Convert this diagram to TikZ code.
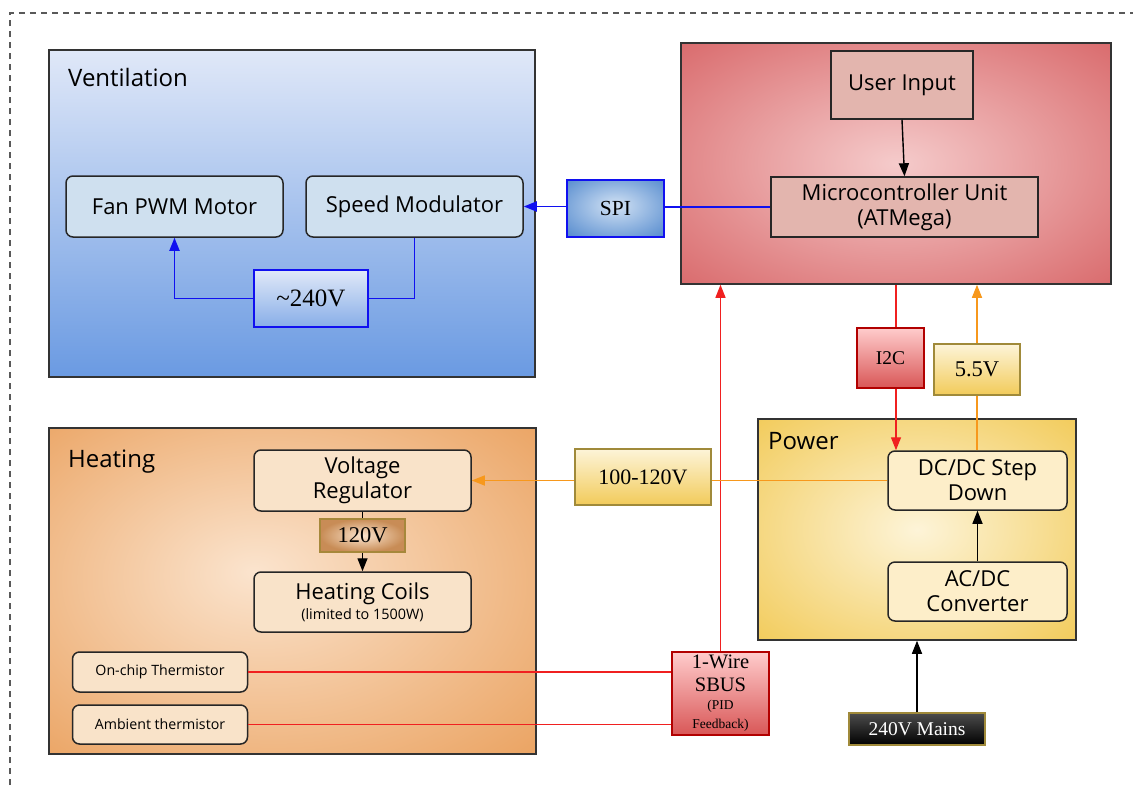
\documentclass[tikz,border=0pt]{standalone}
\usepackage{fontspec}
\setmainfont{Open Sans}
\newfontfamily\tnr{Liberation Serif}
\usetikzlibrary{arrows.meta}
\definecolor{ventTop}{HTML}{E0E8F8}
\definecolor{ventBot}{HTML}{6A9AE2}
\definecolor{ventInner}{HTML}{CFE0EF}
\definecolor{spiIn}{HTML}{D2E2F4}
\definecolor{spiOut}{HTML}{5B8FD0}
\definecolor{redIn}{HTML}{F5CBCB}
\definecolor{redOut}{HTML}{D96A6C}
\definecolor{mcuInner}{HTML}{E3B5AE}
\definecolor{heatIn}{HTML}{FBE4CE}
\definecolor{heatOut}{HTML}{EBA565}
\definecolor{heatInner}{HTML}{F9E3C9}
\definecolor{powIn}{HTML}{FDF4D8}
\definecolor{powOut}{HTML}{F2CB5A}
\definecolor{powInner}{HTML}{FDEEC9}
\definecolor{wireBlue}{HTML}{1010F0}
\definecolor{wireRed}{HTML}{F02020}
\definecolor{wireOrange}{HTML}{F7981C}
\definecolor{olive}{HTML}{A08A3A}
\pgfdeclareradialshading{mcushade}{\pgfpoint{0bp}{0bp}}{color(0bp)=(redIn); color(36bp)=(redOut); color(50bp)=(redOut)}
\pgfdeclareradialshading{heatshade}{\pgfpoint{-4bp}{3bp}}{color(0bp)=(heatIn); color(36bp)=(heatOut); color(50bp)=(heatOut)}
\pgfdeclareradialshading{powshade}{\pgfpoint{0bp}{0bp}}{color(0bp)=(powIn); color(36bp)=(powOut); color(50bp)=(powOut)}
\pgfdeclareradialshading{spishade}{\pgfpoint{0bp}{3bp}}{color(0bp)=(spiIn); color(34bp)=(spiOut); color(50bp)=(spiOut)}
\tikzset{
  zone/.style={draw=black!80, line width=1.5pt, inner sep=0pt},
  blk/.style={draw=black!85, line width=1.5pt, rounded corners=7pt, align=center, inner sep=0pt,
    font=\fontsize{22}{25}\selectfont},
  sqblk/.style={draw=black!85, line width=1.5pt, align=center, inner sep=0pt,
    font=\fontsize{22}{25}\selectfont, fill=mcuInner},
  lab/.style={draw, line width=1.5pt, align=center, inner sep=0pt},
  ztitle/.style={anchor=west, inner sep=0pt, font=\fontsize{24}{28}\selectfont},
  arr/.style={-{Triangle[length=13pt,width=10pt]}},
  bw/.style={wireBlue, line width=1.8pt},
  rw/.style={wireRed, line width=1.4pt},
  ow/.style={wireOrange, line width=1.4pt},
  kw/.style={black, line width=1.4pt},
}
\begin{document}
\begin{tikzpicture}[x=1pt,y=-1pt]
\useasboundingbox (0,0) rectangle (1133,785);
% dashed border
\draw[dashed, dash pattern=on 6pt off 5pt, black!65, line width=1.2pt] (10,785) -- (10,13) -- (1133,13);

% zones
\node[zone, top color=ventTop, bottom color=ventBot, minimum width=486pt, minimum height=327pt] (vent) at (292,213.5) {};
\node[zone, shading=mcushade, minimum width=430pt, minimum height=241pt] (mcuzone) at (896,163.5) {};
\node[zone, shading=heatshade, minimum width=487pt, minimum height=326pt] (heat) at (292.5,591) {};
\node[zone, shading=powshade, minimum width=318pt, minimum height=221pt] (power) at (917,529.5) {};

\node[ztitle] (venttitle) at (68,77) {Ventilation};
\node[ztitle] (heattitle) at (68,462) {Heating};
\node[ztitle] (powtitle) at (768,441) {Power};

% ventilation blocks
\node[blk, fill=ventInner, minimum width=217pt, minimum height=61pt] (fan) at (174.5,206.5) {Fan PWM Motor};
\node[blk, fill=ventInner, minimum width=217pt, minimum height=61pt] (speed) at (414.5,206.5) {Speed Modulator};
\node[lab, draw=wireBlue, top color=ventTop, bottom color=ventBot!80, minimum width=114pt, minimum height=57pt,
  font=\tnr\fontsize{25}{29}\selectfont] (v240) at (311,298.5) {\textasciitilde240V};

% MCU blocks
\node[sqblk, minimum width=142pt, minimum height=68pt] (ui) at (902,85) {User Input};
\node[sqblk, minimum width=267pt, minimum height=60pt] (mcu) at (904.5,207) {Microcontroller Unit\\(ATMega)};

% SPI
\node[lab, draw=wireBlue, shading=spishade, minimum width=97pt, minimum height=57pt,
  font=\tnr\fontsize{21.5}{25}\selectfont] (spi) at (615.5,208.5) {SPI};

% I2C, 5.5V
\node[lab, draw=red!70!black, top color=red!20, bottom color=red!60!white!85!black, minimum width=67pt, minimum height=60pt,
  font=\tnr\fontsize{19.5}{23}\selectfont] (i2c) at (890.5,358) {I2C};
\node[lab, draw=olive, top color=powIn, bottom color=powOut, minimum width=86pt, minimum height=51pt,
  font=\tnr\fontsize{22.5}{26}\selectfont] (v55) at (977,369.5) {5.5V};

% power blocks
\node[blk, fill=powInner, minimum width=179pt, minimum height=59pt] (dcdc) at (977.5,480.5) {DC/DC Step\\Down};
\node[blk, fill=powInner, minimum width=179pt, minimum height=59pt] (acdc) at (977.5,591.5) {AC/DC\\Converter};
\node[lab, draw=olive, top color=powIn, bottom color=powOut, minimum width=136pt, minimum height=56pt,
  font=\tnr\fontsize{22}{26}\selectfont] (v100) at (643,477) {100-120V};
\node[lab, draw=olive, top color=black!70, bottom color=black, text=white, minimum width=136pt, minimum height=32pt,
  font=\tnr\fontsize{19.5}{23}\selectfont] (mains) at (917,729) {240V Mains};

% 1-wire
\node[lab, draw=red!70!black, top color=red!20, bottom color=red!60!white!85!black, minimum width=97pt, minimum height=83pt,
  font=\tnr\fontsize{20.5}{23}\selectfont] (onew) at (720.5,693.5) {1-Wire\\SBUS\\[-5pt]{\fontsize{13.5}{14}\selectfont (PID}\\[-4pt]{\fontsize{13.5}{14}\selectfont Feedback)}};

% heating blocks
\node[blk, fill=heatInner, minimum width=217pt, minimum height=61pt] (vr) at (362.5,480.5) {Voltage\\Regulator};
\node[lab, draw=olive!80!brown, inner color=heatIn, outer color=heatOut!85!black, minimum width=85pt, minimum height=33pt,
  font=\tnr\fontsize{22.5}{26}\selectfont] (v120) at (362.5,535.5) {120V};
\node[blk, fill=heatInner, minimum width=217pt, minimum height=60pt] (hc) at (362.5,602) {Heating Coils\\[-5pt]{\fontsize{14.4}{17}\selectfont (limited to 1500W)}};
\node[blk, fill=heatInner, minimum width=175pt, minimum height=40pt, font=\fontsize{14.2}{17}\selectfont] (onchip) at (160,672) {On-chip Thermistor};
\node[blk, fill=heatInner, minimum width=175pt, minimum height=39pt, font=\fontsize{14.2}{17}\selectfont] (ambient) at (160,724.5) {Ambient thermistor};

% connectors: ventilation
\draw[bw] (speed.south) |- (v240.east);
\draw[bw, arr] (v240.west) -| (fan.south);
\draw[bw] (mcu.west) -- (spi.east |- mcu.west);
\draw[bw, arr] (spi.west |- speed.east) -- (speed.east);

% MCU
\draw[kw, arr] (ui.south) -- (mcu.north);
\draw[rw, arr] (onew.north) -- (onew.north |- mcuzone.south);
\coordinate (i2cx) at (896,0);
\draw[rw] (mcuzone.south -| i2cx) -- (i2c.north -| i2cx);
\draw[rw, arr] (i2c.south -| i2cx) -- (dcdc.north -| i2cx);
\draw[ow] (dcdc.north -| v55.south) -- (v55.south);
\draw[ow, arr] (v55.north) -- (mcuzone.south -| v55.north);

% power
\draw[kw, arr] (acdc.north) -- (dcdc.south);
\draw[kw, arr] (mains.north) -- (power.south);
\draw[ow] (dcdc.west) -- (v100.east |- dcdc.west);
\draw[ow, arr] (v100.west |- vr.east) -- (vr.east);

% heating
\draw[kw] (vr.south) -- (v120.north);
\draw[kw, arr] (v120.south) -- (hc.north);
\draw[rw] (onchip.east) -- (onew.west |- onchip.east);
\draw[rw] (ambient.east) -- (onew.west |- ambient.east);
\end{tikzpicture}
\end{document}
